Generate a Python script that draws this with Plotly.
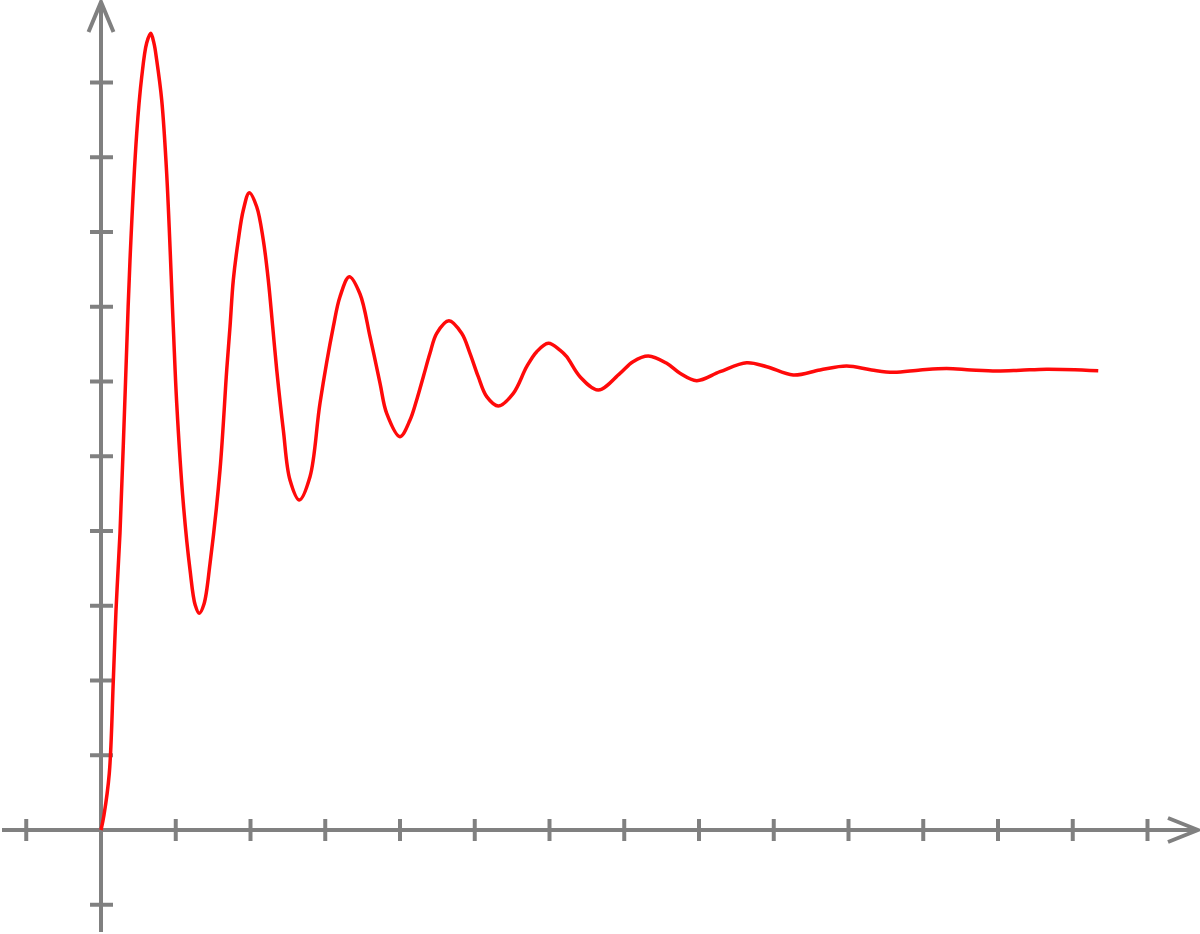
import plotly.graph_objects as go

# Damped step response (data units)
t_vals = [0.000, 0.040, 0.111, 0.165, 0.201, 0.254, 0.328, 0.388, 0.478, 0.545, 0.611, 0.665,
          0.709, 0.745, 0.812, 0.879, 0.967, 1.013, 1.101, 1.191, 1.260, 1.315, 1.378, 1.459,
          1.592, 1.682, 1.726, 1.770, 1.837, 1.904, 1.984, 2.083, 2.171, 2.238, 2.297, 2.351,
          2.439, 2.528, 2.653, 2.796, 2.930, 3.108, 3.197, 3.322, 3.465, 3.599, 3.733, 3.822,
          4.000, 4.134, 4.223, 4.312, 4.401, 4.491, 4.655, 4.825, 4.936, 5.047, 5.160, 5.315,
          5.516, 5.695, 5.829, 5.984, 6.140, 6.230, 6.408, 6.653, 6.943, 7.117, 7.322, 7.568,
          7.746, 7.969, 8.281, 8.638, 8.906, 9.261, 9.619, 9.975, 10.310, 10.600, 10.960,
          11.313, 11.640, 11.983, 12.300, 12.651, 13.341]
y_vals = [0.000, 0.201, 0.759, 2.007, 2.943, 3.973, 5.993, 7.625, 9.324, 10.078, 10.528, 10.658,
          10.524, 10.301, 9.766, 8.776, 6.733, 5.708, 4.371, 3.478, 3.010, 2.899, 3.023, 3.568,
          4.816, 6.154, 6.733, 7.358, 7.893, 8.294, 8.526, 8.338, 7.893, 7.358, 6.733, 6.154,
          5.351, 4.682, 4.415, 4.726, 5.712, 6.733, 7.134, 7.402, 7.171, 6.599, 5.976, 5.574,
          5.262, 5.485, 5.753, 6.064, 6.377, 6.645, 6.813, 6.645, 6.377, 6.064, 5.797, 5.672,
          5.842, 6.198, 6.399, 6.511, 6.421, 6.332, 6.064, 5.886, 6.110, 6.265, 6.341, 6.243,
          6.110, 6.011, 6.131, 6.251, 6.198, 6.087, 6.154, 6.207, 6.154, 6.123, 6.154,
          6.174, 6.154, 6.140, 6.150, 6.165, 6.145]

x_ticks = [-1, 1, 2, 3, 4, 5, 6, 7, 8, 9, 10, 11, 12, 13, 14]
y_ticks = [-1, 1, 2, 3, 4, 5, 6, 7, 8, 9, 10]

SCALE = 74.75  # px per unit
X_RANGE = [-101 / SCALE, 1099 / SCALE]
Y_RANGE = [-104 / SCALE, 830 / SCALE]
X_AXIS_EXT = [-99 / SCALE, 1096 / SCALE]
Y_AXIS_EXT = [-102 / SCALE, 827 / SCALE]

GRAY = "#808080"
AW = 4

fig = go.Figure()
fig.add_trace(go.Scatter(x=t_vals, y=y_vals, mode="lines",
                         line=dict(color="#ff0a0a", width=3.5, shape="spline", smoothing=1.0,
                                   simplify=False),
                         hoverinfo="skip", showlegend=False))

shapes = []
# axis lines
shapes.append(dict(type="line", xref="x", yref="y", x0=X_AXIS_EXT[0], x1=X_AXIS_EXT[1], y0=0, y1=0,
                   line=dict(color=GRAY, width=AW), layer="below"))
shapes.append(dict(type="line", xref="x", yref="y", x0=0, x1=0, y0=Y_AXIS_EXT[0], y1=Y_AXIS_EXT[1],
                   line=dict(color=GRAY, width=AW), layer="below"))
# ticks
for xv in x_ticks:
    shapes.append(dict(type="line", xref="x", yref="y", x0=xv, x1=xv, ysizemode="pixel", yanchor=0,
                       y0=-11, y1=11, line=dict(color=GRAY, width=AW), layer="below"))
for yv in y_ticks:
    shapes.append(dict(type="line", xref="x", yref="y", y0=yv, y1=yv, xsizemode="pixel", xanchor=0,
                       x0=-11, x1=12, line=dict(color=GRAY, width=AW), layer="below"))
# arrow heads (open chevrons)
shapes.append(dict(type="path", xref="x", yref="y", xsizemode="pixel", ysizemode="pixel",
                   xanchor=X_AXIS_EXT[1], yanchor=0,
                   path="M -29 12 L 1 0 L -29 -12", line=dict(color=GRAY, width=AW), layer="below"))
shapes.append(dict(type="path", xref="x", yref="y", xsizemode="pixel", ysizemode="pixel",
                   xanchor=0, yanchor=Y_AXIS_EXT[1],
                   path="M -12.5 -29 L 0 1 L 12.5 -29", line=dict(color=GRAY, width=AW), layer="below"))

fig.update_layout(
    width=1200, height=934,
    margin=dict(l=0, r=0, t=0, b=0),
    paper_bgcolor="white", plot_bgcolor="white",
    xaxis=dict(range=X_RANGE, visible=False, showgrid=False, zeroline=False, fixedrange=True),
    yaxis=dict(range=Y_RANGE, visible=False, showgrid=False, zeroline=False, fixedrange=True),
    shapes=shapes,
    showlegend=False,
)

fig.write_html("out.html", config={"displayModeBar": False},
               post_script="document.body.style.margin='0px';document.body.style.overflow='hidden';")
